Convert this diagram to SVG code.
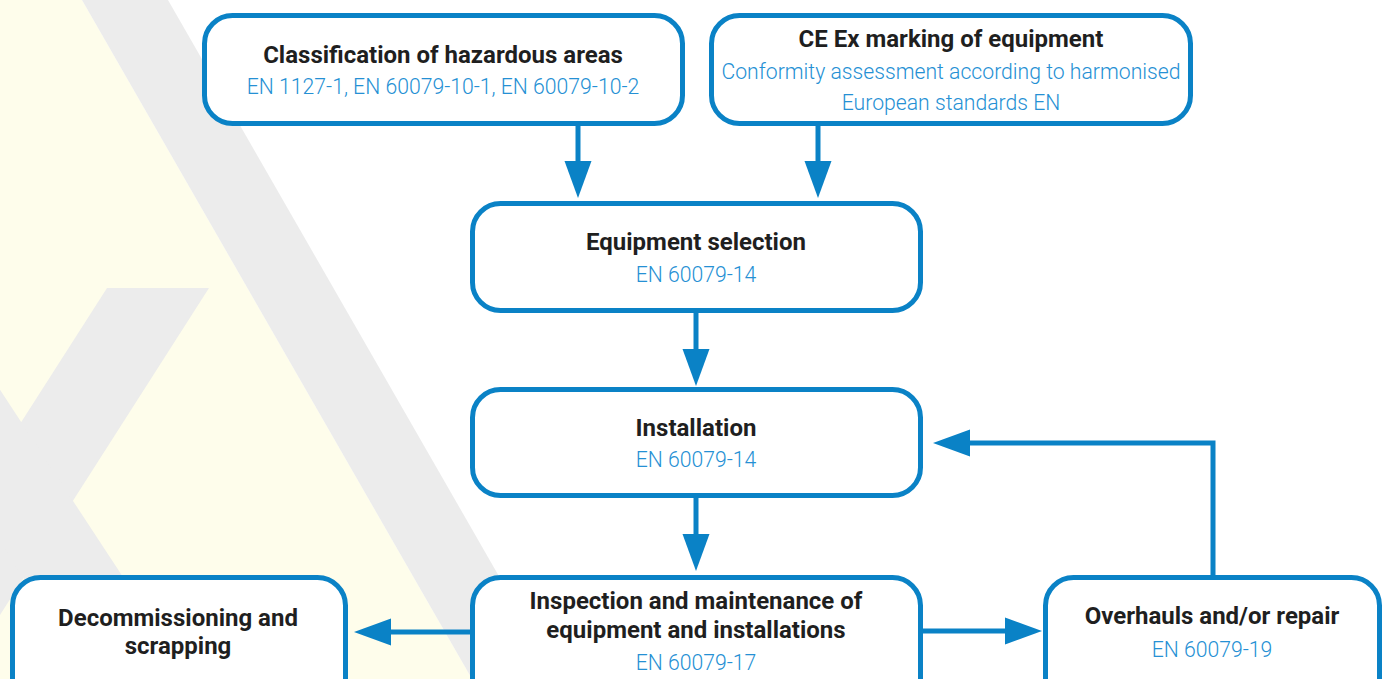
<svg xmlns="http://www.w3.org/2000/svg" width="1387" height="679" viewBox="0 0 1387 679">
<style>
.box{fill:#ffffff;stroke:#0a82c6;stroke-width:5}
.t{font-family:Roboto,"Liberation Sans",sans-serif;font-weight:700;font-size:24px;fill:#1f1f1f;text-anchor:middle}
.s{font-family:Roboto,"Liberation Sans",sans-serif;font-weight:300;font-size:21.2px;fill:#2590d4;text-anchor:middle}
.c{fill:none;stroke:#0a82c6;stroke-width:5}
.bgy{fill:#fefdeb}
.bgg{fill:#ececec}
</style>
<defs>
<marker id="ah" markerUnits="userSpaceOnUse" markerWidth="38" markerHeight="28" viewBox="0 -14 38 28" refX="0" refY="0" orient="auto">
<path d="M0,-13.5 L37,0 L0,13.5 Z" fill="#0a82c6"/>
</marker>
</defs>
<g id="background">
<polygon class="bgy" points="0,0 82,0 472,679 0,679"/>
<polygon class="bgg" points="82,0 168,0 558,679 472,679"/>
<polygon class="bgg" points="107,288 209,288 -41,679 -143,679"/>
<polygon class="bgg" points="-59,300 190,679 90,679 -159,300"/>
</g>
<g id="connectors">
<line class="c" x1="578" y1="126" x2="578" y2="161" marker-end="url(#ah)"/>
<line class="c" x1="818" y1="126" x2="818" y2="161" marker-end="url(#ah)"/>
<line class="c" x1="696" y1="313" x2="696" y2="349" marker-end="url(#ah)"/>
<line class="c" x1="696" y1="498" x2="696" y2="534" marker-end="url(#ah)"/>
<line class="c" x1="470" y1="632" x2="391" y2="632" marker-end="url(#ah)"/>
<line class="c" x1="923" y1="631" x2="1005" y2="631" marker-end="url(#ah)"/>
<path class="c" d="M1213,575 V443 H970" marker-end="url(#ah)"/>
</g>
<g id="classification">
<rect class="box" x="204.5" y="15.5" width="478" height="108" rx="28"/>
<text class="t" x="443" y="63">Classification of hazardous areas</text>
<text class="s" x="443" y="94">EN 1127-1, EN 60079-10-1, EN 60079-10-2</text>
</g>
<g id="ce-marking">
<rect class="box" x="711.5" y="15.5" width="479" height="108" rx="28"/>
<text class="t" x="951" y="47">CE Ex marking of equipment</text>
<text class="s" x="951" y="79">Conformity assessment according to harmonised</text>
<text class="s" x="951" y="110">European standards EN</text>
</g>
<g id="equipment-selection">
<rect class="box" x="472.5" y="203.5" width="448" height="107" rx="28"/>
<text class="t" x="696" y="250">Equipment selection</text>
<text class="s" x="696" y="282">EN 60079-14</text>
</g>
<g id="installation">
<rect class="box" x="472.5" y="389.5" width="448" height="106" rx="28"/>
<text class="t" x="696" y="436">Installation</text>
<text class="s" x="696" y="467">EN 60079-14</text>
</g>
<g id="inspection">
<rect class="box" x="472.5" y="577.5" width="448" height="130" rx="28"/>
<text class="t" x="696" y="609">Inspection and maintenance of</text>
<text class="t" x="696" y="638">equipment and installations</text>
<text class="s" x="696" y="670">EN 60079-17</text>
</g>
<g id="decommissioning">
<rect class="box" x="12.5" y="577.5" width="333" height="130" rx="28"/>
<text class="t" x="178" y="626">Decommissioning and</text>
<text class="t" x="178" y="654">scrapping</text>
</g>
<g id="overhauls">
<rect class="box" x="1045.5" y="577.5" width="334" height="130" rx="28"/>
<text class="t" x="1212" y="624">Overhauls and/or repair</text>
<text class="s" x="1212" y="657">EN 60079-19</text>
</g>
</svg>
